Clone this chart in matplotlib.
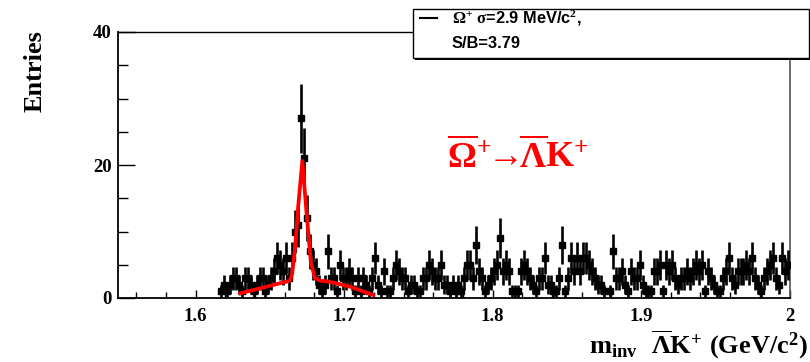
import numpy as np
import matplotlib
matplotlib.use('Agg')
import matplotlib.pyplot as plt
from matplotlib.patches import Rectangle
from matplotlib.lines import Line2D

# invariant mass histogram, 2 MeV bins starting at 1.616
bin_lo = 1.616
bin_w = 0.002
counts = [1, 2, 1, 2, 3, 3, 2, 1, 3, 3, 2, 1, 2, 3, 3, 1, 2, 3, 4, 6,
          5, 4, 6, 3, 6, 10, 11, 27, 21, 12, 7, 5, 4, 2, 1, 2, 7, 3,
          3, 1, 5, 3, 3, 4, 3, 1, 3, 1, 3, 2, 1, 3, 6, 2, 1, 4, 1, 1,
          3, 5, 4, 3, 3, 1, 2, 2, 1, 1, 3, 3, 5, 4, 3, 3, 5, 2, 2, 1,
          2, 1, 2, 1, 3, 5, 5, 3, 8, 4,
          3, 1, 2, 3, 4, 5, 9, 4, 5, 4, 1, 1, 1, 4, 5, 4, 3, 2, 1, 3,
          3, 6, 2, 2, 1, 1, 3, 8, 1, 3, 6, 4, 6, 4, 6, 6, 5, 4, 3, 2,
          2, 1, 0, 1, 7, 3, 3, 4, 2, 1, 4, 3, 3,
          5, 2, 1, 1, 1, 4, 4, 5, 1, 5, 4, 5, 3, 2, 3, 3, 4, 3, 4, 5,
          4, 5, 1, 4, 3, 2, 1, 1, 3, 4, 6, 3, 2, 4, 4, 4, 5, 4, 6, 3,
          2, 1, 3, 4, 5, 6, 3, 2, 6, 4, 5]

# gaus + background fit
fit_x = [1.630, 1.6635, 1.665, 1.667, 1.669, 1.6718, 1.6747, 1.6776,
         1.6803, 1.684, 1.690, 1.704, 1.7195]
fit_y = [0.7, 2.6, 3.7, 7.7, 13.7, 20.6, 12.7, 5.3, 3.0, 2.6, 2.45, 1.7, 0.45]

x_ticks = [1.6, 1.7, 1.8, 1.9, 2.0]
x_labels = ['1.6', '1.7', '1.8', '1.9', '2']
y_ticks = [0, 20, 40]

plt.rcParams['mathtext.fontset'] = 'custom'
plt.rcParams['mathtext.rm'] = 'Liberation Serif:bold'
plt.rcParams['mathtext.it'] = 'Liberation Serif:bold'
plt.rcParams['mathtext.bf'] = 'Liberation Serif:bold'

W, H = 810, 362
fig = plt.figure(figsize=(W / 100, H / 100), dpi=100)
ax = fig.add_axes([117.5 / W, 1 - 298 / H, (789.5 - 117.5) / W, (298 - 32) / H])

counts = np.array(counts, dtype=float)
centers = bin_lo + bin_w * (np.arange(len(counts)) + 0.5)
m = counts > 0
ax.errorbar(centers[m], counts[m], xerr=bin_w / 2, yerr=np.sqrt(counts[m]),
            fmt='s', ms=4.2, color='black', ecolor='black', elinewidth=1.9,
            capsize=0, zorder=3)
ax.plot(fit_x, fit_y, color='#ff0000', lw=2.7, zorder=4, solid_joinstyle='round')

ax.set_xlim(1.5473, 2.0)
ax.set_ylim(0, 40)

ax.set_xticks(x_ticks)
ax.set_xticklabels(x_labels)
ax.set_xticks(np.arange(1.56, 2.0, 0.02), minor=True)
ax.set_yticks(y_ticks)
ax.set_yticks(np.arange(0, 41, 5), minor=True)

tick_font = dict(family='Liberation Serif', weight='bold', size=13.5)
for lab in ax.get_xticklabels() + ax.get_yticklabels():
    lab.set_fontproperties(matplotlib.font_manager.FontProperties(**tick_font))

ax.tick_params(axis='x', which='major', direction='in', length=6, width=1, pad=7)
ax.tick_params(axis='x', which='minor', direction='in', length=4, width=1)
ax.tick_params(axis='y', which='major', direction='in', length=12, width=1, pad=4)
ax.tick_params(axis='y', which='minor', direction='in', length=7, width=1)
ax.tick_params(top=False, right=False, which='both')

ax.spines['left'].set_linewidth(1.3)
ax.spines['bottom'].set_linewidth(1.3)
ax.spines['top'].set_linewidth(1.0)
ax.spines['right'].set_linewidth(1.2)
ax.spines['right'].set_color('#555555')

# axis titles in ROOT style, at the axis ends
fig.text(35 / W, 1 - 30 / H, 'Entries', rotation=90, ha='center', va='top',
         family='Liberation Serif', weight='bold', fontsize=19)
fig.text(808 / W, 1 - 354 / H,
         r'$\mathrm{m}_{\mathrm{inv}}\ \ \overline{\Lambda}\mathrm{K}^{+}\ (\mathrm{GeV/c}^{2})$',
         ha='right', va='baseline', fontsize=19)

# red decay label
fig.text(447 / W, 1 - 168 / H,
         r'$\overline{\Omega}^{+}\!\!\rightarrow\!\!\overline{\Lambda}\mathrm{K}^{+}$',
         ha='left', va='baseline', color='#ff0000', fontsize=26)

# legend box, drawn on top of the frame like the TLegend
x0, y0, x1, y1 = 413 / W, 1 - 58 / H, 809 / W, 1 - 9 / H
fig.add_artist(Rectangle((x0 + 2 / W, y0 - 2 / H), x1 - x0, y1 - y0,
                         transform=fig.transFigure, facecolor='black',
                         edgecolor='none', zorder=9))
fig.add_artist(Rectangle((x0, y0), x1 - x0, y1 - y0, transform=fig.transFigure,
                         facecolor='white', edgecolor='black', lw=1.0, zorder=10))
fig.add_artist(Line2D([420 / W, 437 / W], [1 - 18 / H, 1 - 18 / H],
                      transform=fig.transFigure, color='black', lw=1.5, zorder=11))
fig.text(452 / W, 1 - 18 / H, r'$\Omega^{+}$ $\sigma$=2.9 MeV/c$^{2}$,',
         ha='left', va='center', family='Liberation Sans', weight='bold',
         fontsize=11.8, zorder=11)
fig.text(452 / W, 1 - 43 / H, 'S/B=3.79', ha='left', va='center',
         family='Liberation Sans', weight='bold', fontsize=11.8, zorder=11)

fig.savefig('out.png', dpi=100)
